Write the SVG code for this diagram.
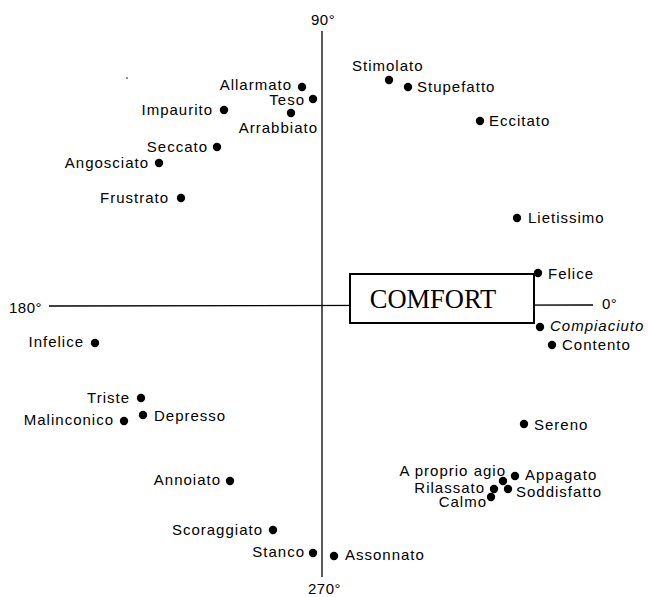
<svg xmlns="http://www.w3.org/2000/svg" width="648" height="597" viewBox="0 0 648 597">
<style>
  text { font-family: "Liberation Sans", Arial, sans-serif; font-size: 15px; letter-spacing: 1px; fill: #000; }
  .e { text-anchor: end; }
  .deg { font-size: 15px; letter-spacing: 0.5px; }
  .it { font-style: italic; }
  .dot { fill: #000; }
  .axis { stroke: #000; stroke-width: 1.3; fill: none; }
  .box { fill: #fff; stroke: #000; stroke-width: 2; }
  .comfort { font-family: "Liberation Serif", "Times New Roman", serif; font-size: 26.5px; letter-spacing: 0; text-anchor: middle; }
</style>
<rect width="648" height="597" fill="#fff"/>
<g id="connectors">
  <line class="axis" x1="322" y1="31" x2="322" y2="577"/>
  <line class="axis" x1="49" y1="306" x2="593" y2="305"/>
  <circle cx="127" cy="78" r="0.8" fill="#000"/>
</g>
<g id="axis-labels">
  <text class="deg" x="311" y="25">90°</text>
  <text class="deg" x="9" y="313">180°</text>
  <text class="deg" x="602" y="309">0°</text>
  <text class="deg" x="308" y="594">270°</text>
</g>
<g id="comfort">
  <rect class="box" x="350" y="274" width="184" height="49"/>
  <text class="comfort" x="433" y="308">COMFORT</text>
</g>
<g id="allarmato"><circle class="dot" cx="302" cy="87" r="4.2"/><text class="e" x="292" y="90">Allarmato</text></g>
<g id="teso"><circle class="dot" cx="313" cy="99" r="4.2"/><text class="e" x="305" y="105">Teso</text></g>
<g id="impaurito"><circle class="dot" cx="224" cy="110" r="4.2"/><text class="e" x="213" y="115">Impaurito</text></g>
<g id="arrabbiato"><circle class="dot" cx="291" cy="113" r="4.2"/><text class="e" x="318" y="133">Arrabbiato</text></g>
<g id="seccato"><circle class="dot" cx="217" cy="147" r="4.2"/><text class="e" x="208" y="152">Seccato</text></g>
<g id="angosciato"><circle class="dot" cx="159" cy="163" r="4.2"/><text class="e" x="149" y="168">Angosciato</text></g>
<g id="frustrato"><circle class="dot" cx="181" cy="198" r="4.2"/><text class="e" x="169" y="203">Frustrato</text></g>
<g id="stimolato"><circle class="dot" cx="389" cy="80" r="4.2"/><text x="352" y="71">Stimolato</text></g>
<g id="stupefatto"><circle class="dot" cx="408" cy="87" r="4.2"/><text x="417" y="92">Stupefatto</text></g>
<g id="eccitato"><circle class="dot" cx="480" cy="121" r="4.2"/><text x="489" y="126">Eccitato</text></g>
<g id="lietissimo"><circle class="dot" cx="517" cy="218" r="4.2"/><text x="528" y="223">Lietissimo</text></g>
<g id="felice"><circle class="dot" cx="538" cy="273" r="4.2"/><text x="548" y="279">Felice</text></g>
<g id="compiaciuto"><circle class="dot" cx="540" cy="327" r="4.2"/><text class="it" x="550" y="331">Compiaciuto</text></g>
<g id="contento"><circle class="dot" cx="552" cy="345" r="4.2"/><text x="562" y="350">Contento</text></g>
<g id="sereno"><circle class="dot" cx="524" cy="424" r="4.2"/><text x="534" y="430">Sereno</text></g>
<g id="infelice"><circle class="dot" cx="95" cy="343" r="4.2"/><text class="e" x="84" y="347">Infelice</text></g>
<g id="triste"><circle class="dot" cx="141" cy="398" r="4.2"/><text class="e" x="130" y="403">Triste</text></g>
<g id="malinconico"><circle class="dot" cx="124" cy="421" r="4.2"/><text class="e" x="114" y="425">Malinconico</text></g>
<g id="depresso"><circle class="dot" cx="143" cy="415" r="4.2"/><text x="154" y="421">Depresso</text></g>
<g id="annoiato"><circle class="dot" cx="230" cy="481" r="4.2"/><text class="e" x="221" y="485">Annoiato</text></g>
<g id="scoraggiato"><circle class="dot" cx="273" cy="530" r="4.2"/><text class="e" x="263" y="535">Scoraggiato</text></g>
<g id="stanco"><circle class="dot" cx="313" cy="553" r="4.2"/><text class="e" x="305" y="557">Stanco</text></g>
<g id="assonnato"><circle class="dot" cx="334" cy="556" r="4.2"/><text x="345" y="560">Assonnato</text></g>
<g id="a-proprio-agio"><circle class="dot" cx="503" cy="481" r="4.2"/><text class="e" x="506" y="476">A proprio agio</text></g>
<g id="appagato"><circle class="dot" cx="515" cy="476" r="4.2"/><text x="525" y="480">Appagato</text></g>
<g id="rilassato"><circle class="dot" cx="494" cy="489" r="4.2"/><text class="e" x="485" y="493">Rilassato</text></g>
<g id="soddisfatto"><circle class="dot" cx="508" cy="489" r="4.2"/><text x="516" y="497">Soddisfatto</text></g>
<g id="calmo"><circle class="dot" cx="491" cy="497" r="4.2"/><text class="e" x="487" y="507">Calmo</text></g>
</svg>
